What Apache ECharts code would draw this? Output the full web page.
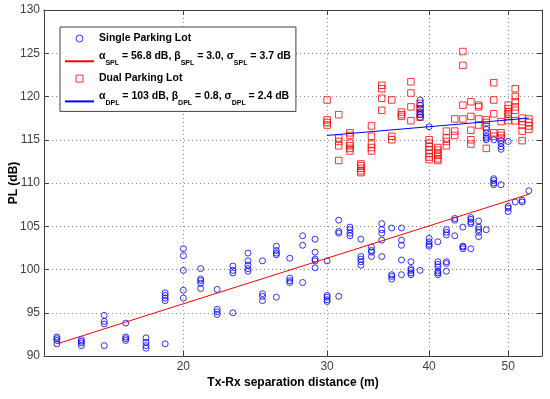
<!DOCTYPE html>
<html>
<head>
<meta charset="utf-8">
<script src="https://cdn.jsdelivr.net/npm/echarts@6.0.0/dist/echarts.min.js"></script>
<style>html,body{margin:0;padding:0;background:#fff;}#chart{width:550px;height:399px;}</style>
</head>
<body>
<div id="chart"></div>
<script>
// ---- data ----
const singleDist = [14,15,16,17,18,19,20,21,22,23,24,25,26,27,28,29,30,31,32,33,34,35,36,37,38,39,40,41,42,43,44,45,46,47,48,49,50,51,52,53];
const singlePL = [
  [92.2,92.0,91.8,91.4],
  [91.9,91.7,91.5,91.2],
  [94.7,94.0,93.7,91.2],
  [93.8,92.2,92.0,91.8],
  [92.1,91.6,91.2,90.9],
  [97.3,97.0,96.7,96.4,91.4],
  [102.4,101.6,99.9,97.6,96.7],
  [100.1,98.9,98.7,98.4,97.8],
  [97.7,95.4,95.1,94.8],
  [100.4,99.9,99.6,95.0],
  [101.9,101.0,100.5,100.1,99.8],
  [101.0,97.2,96.9,96.4],
  [102.7,102.2,101.9,101.7,96.8],
  [101.3,99.0,98.7,98.5],
  [103.9,102.8,98.5],
  [103.5,102.0,101.2,101.0,100.2],
  [101.0,97.0,96.8,96.5,96.3],
  [105.7,104.4,104.2,96.9],
  [104.9,104.6,104.2,103.9],
  [103.5,101.5,101.2,100.9,100.5],
  [102.6,102.2,102.0,101.5],
  [105.3,104.6,104.2,103.4,101.5],
  [104.8,99.4,99.2,98.9],
  [104.8,103.4,102.8,101.1,99.4],
  [100.9,100.1,99.9,99.6,99.4],
  [99.9,119.6,119.0,118.6,118.2,117.9,117.6],
  [103.6,103.2,102.9,102.7,116.5],
  [103.2,100.9,100.6,100.3,99.8,99.6,99.4],
  [104.6,104.3,104.0,100.9,100.7,99.8],
  [105.9,105.7,103.9],
  [104.9,102.7,102.6,102.4],
  [106.0,105.8,105.5,105.3,102.4],
  [105.6,104.9,104.6,104.3,103.8],
  [104.6,116.2,115.8,115.4,115.2,115.0],
  [110.5,110.3,110.0,109.8,115.0],
  [109.8,114.9,114.6,114.2,113.9],
  [107.3,107.1,106.7,114.8],
  [107.8],
  [108.0,107.8],
  [109.1]
];
const dualDist = [30,31,32,33,34,35,36,37,38,39,40,41,42,43,44,45,46,47,48,49,50,51,52,53];
const dualPL = [
  [119.6,117.3,117.0,116.7],
  [117.9,115.2,114.8,114.3,112.6],
  [115.8,115.5,114.6,114.3,114.0,113.7],
  [112.2,112.0,111.7,111.4,111.2],
  [116.6,115.4,114.5,114.1,113.7],
  [121.3,120.9,119.8,118.4],
  [119.6,115.4,115.0],
  [118.2,117.9,117.7],
  [121.7,120.4,118.8,117.2],
  [119.2,118.6,118.0,117.6],
  [115.0,114.6,114.2,113.8,113.4,113.0,112.7],
  [114.1,113.8,113.5,113.2,112.8,112.6],
  [116.0,115.2,114.8,114.3],
  [117.4,116.0,115.5],
  [125.2,123.6,119.0,117.4],
  [119.4,117.7,116.1,115.0,114.5],
  [119.0,118.8,117.4,116.7],
  [117.3,117.0,116.5,114.0],
  [121.6,119.6,118.0,115.8,115.4],
  [117.1,115.8,115.5,115.2],
  [119.0,118.6,118.2,118.0,117.7,117.2],
  [120.9,120.0,119.4,118.8,118.4,117.2],
  [117.5,117.1,116.7,116.0,114.9],
  [117.4,117.0,116.6,116.2]
];
const splFitDist = [14, 53];
const splFitPL = [91.4, 108.7];
const dplFitDist = [30, 53];
const dplFitPL = [115.5, 117.5];
const xTickValues = [20, 30, 40, 50];
const seriesNames = [
  'Single Parking Lot',
  'αSPL = 56.8 dB, βSPL = 3.0, σSPL = 3.7 dB',
  'Dual Parking Lot',
  'αDPL = 103 dB, βDPL = 0.8, σDPL = 2.4 dB'
];
// legend rich-text pieces: [symbol, subscript, following text]
const splLegendParts = [['α','SPL',' = 56.8 dB, '],['β','SPL',' = 3.0, '],['σ','SPL',' = 3.7 dB']];
const dplLegendParts = [['α','DPL',' = 103 dB, '],['β','DPL',' = 0.8, '],['σ','DPL',' = 2.4 dB']];

// ---- build ----
function pairs(dists, vals) {
  const out = [];
  dists.forEach((d, i) => vals[i].forEach(v => out.push([d, v])));
  return out;
}
function linePairs(xs, ys) { return xs.map((x, i) => [x, ys[i]]); }
function richParts(parts) {
  return parts.map(p => '{m|' + p[0] + '}{s|' + p[1] + '}{m|' + p[2] + '}').join('');
}

const FONT = 'Liberation Sans';
const AXIS_COLOR = '#404040';
const GRID_COLOR = '#8a8a8a';

const chart = echarts.init(document.getElementById('chart'), null, {renderer: 'canvas'});
const xBase = {
  type: 'log', logBase: 10, min: 13.5, max: 55,
  axisLine: {show: true, lineStyle: {color: AXIS_COLOR, width: 1}},
  axisTick: {show: true, inside: true, length: 5, customValues: xTickValues, lineStyle: {color: AXIS_COLOR}},
  minorTick: {show: false}, minorSplitLine: {show: false}
};
const yBase = {
  type: 'value', min: 90, max: 130, interval: 5,
  axisLine: {show: true, lineStyle: {color: AXIS_COLOR, width: 1}},
  axisTick: {show: true, inside: true, length: 5, lineStyle: {color: AXIS_COLOR}}
};

chart.setOption({
  animation: false,
  backgroundColor: '#fff',
  textStyle: {fontFamily: FONT},
  grid: {left: 44, right: 8, top: 10, bottom: 43, containLabel: false, outerBoundsMode: 'none'},
  xAxis: [
    Object.assign({}, xBase, {
      position: 'bottom',
      name: 'Tx-Rx separation distance (m)', nameLocation: 'middle', nameGap: 21, nameMoveOverlap: false,
      nameTextStyle: {fontFamily: FONT, fontSize: 12, fontWeight: 'bold', color: '#000'},
      axisLabel: {show: true, customValues: xTickValues, margin: 5, fontFamily: FONT, fontSize: 12, color: AXIS_COLOR,
        formatter: v => String(Math.round(v))},
      splitLine: {show: true, lineStyle: {color: GRID_COLOR, type: [1, 3], width: 1}}
    }),
    Object.assign({}, xBase, {
      position: 'top',
      axisLabel: {show: false},
      splitLine: {show: false}
    })
  ],
  yAxis: [
    Object.assign({}, yBase, {
      position: 'left',
      name: 'PL (dB)', nameLocation: 'middle', nameGap: 24, nameMoveOverlap: false,
      nameTextStyle: {fontFamily: FONT, fontSize: 12, fontWeight: 'bold', color: '#000'},
      axisLabel: {show: true, margin: 4, fontFamily: FONT, fontSize: 12, color: AXIS_COLOR},
      splitLine: {show: true, lineStyle: {color: GRID_COLOR, type: [1, 3], width: 1}}
    }),
    Object.assign({}, yBase, {
      position: 'right',
      axisLabel: {show: false},
      splitLine: {show: false}
    })
  ],
  legend: {
    show: true,
    orient: 'vertical',
    left: 60, top: 27,
    padding: [6, 5, 5, 4],
    itemGap: 6.8,
    itemWidth: 29, itemHeight: 7,
    backgroundColor: '#fff',
    borderColor: AXIS_COLOR, borderWidth: 1,
    selectedMode: false,
    itemStyle: {borderWidth: 1},
    data: [
      {name: seriesNames[0]},
      {name: seriesNames[1], itemStyle: {opacity: 0}},
      {name: seriesNames[2], icon: 'path://M0,0h10v10h-10z'},
      {name: seriesNames[3], itemStyle: {opacity: 0}}
    ],
    textStyle: {
      fontFamily: FONT, fontSize: 10.5, fontWeight: 'bold', color: '#000',
      rich: {
        p: {fontFamily: FONT, fontSize: 10.5, fontWeight: 'bold', color: '#000', lineHeight: 14, verticalAlign: 'middle'},
        m: {fontFamily: FONT, fontSize: 10.5, fontWeight: 'bold', color: '#000', lineHeight: 21, verticalAlign: 'top'},
        s: {fontFamily: FONT, fontSize: 7, fontWeight: 'bold', color: '#000', lineHeight: 8, verticalAlign: 'top', padding: [8.5, 0, 0, 0]}
      }
    },
    formatter: function (name) {
      if (name === seriesNames[1]) return richParts(splLegendParts);
      if (name === seriesNames[3]) return richParts(dplLegendParts);
      return '{p|' + name + '}';
    }
  },
  series: [
    {
      name: seriesNames[0], type: 'scatter', z: 4,
      symbol: 'circle', symbolSize: 6,
      itemStyle: {color: 'rgba(0,0,0,0)', borderColor: '#0000ff', borderWidth: 1},
      data: pairs(singleDist, singlePL)
    },
    {
      name: seriesNames[1], type: 'line', z: 5,
      symbol: 'none', showSymbol: false,
      lineStyle: {color: '#ff0000', width: 1},
      itemStyle: {color: '#ff0000'},
      data: linePairs(splFitDist, splFitPL)
    },
    {
      name: seriesNames[2], type: 'scatter', z: 3,
      symbol: 'rect', symbolSize: 6.5,
      itemStyle: {color: 'rgba(0,0,0,0)', borderColor: '#ff0000', borderWidth: 1},
      data: pairs(dualDist, dualPL)
    },
    {
      name: seriesNames[3], type: 'line', z: 5,
      symbol: 'none', showSymbol: false,
      lineStyle: {color: '#0000ff', width: 1},
      itemStyle: {color: '#0000ff'},
      data: linePairs(dplFitDist, dplFitPL)
    }
  ]
});
</script>
</body>
</html>
